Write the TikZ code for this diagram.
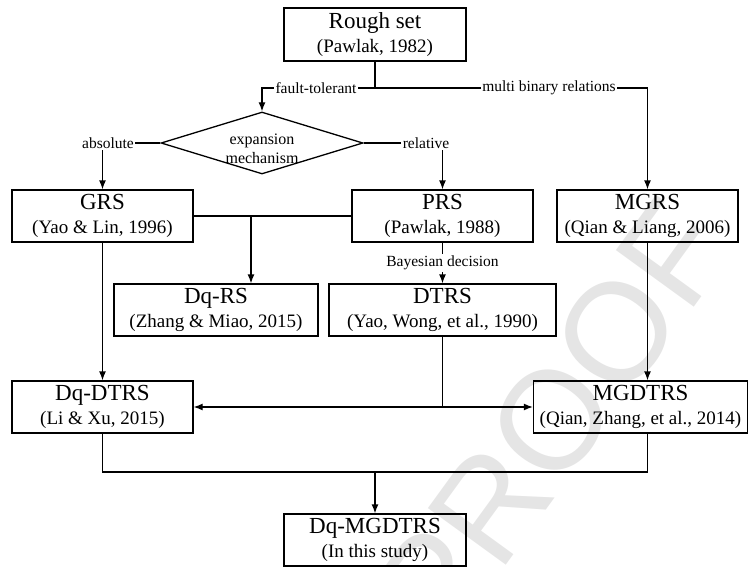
\documentclass[tikz,border=0pt]{standalone}
\usepackage{fontspec}
\setmainfont{Liberation Serif}
\newfontfamily\wmfont{Liberation Sans}
\usetikzlibrary{arrows.meta,shapes.geometric}
\newcommand{\boxtitle}[1]{{\fontsize{23}{24}\selectfont #1}}
\begin{document}
\begin{tikzpicture}[x=1pt,y=-1pt,
  box/.style={draw, line width=1.3pt, align=center, inner sep=0pt, font=\fontsize{19}{24}\selectfont},
  lbl/.style={fill=white, inner sep=1.5pt, font=\fontsize{15.5}{19}\selectfont},
  conn/.style={line width=1.3pt},
  arr/.style={line width=1.3pt, -{Latex[length=9pt,width=7pt]}},
]
\useasboundingbox (0,0) rectangle (749,567);
% watermark
\node[rotate=54, text=black!10, font=\wmfont\fontsize{140}{140}\selectfont] (wm) at (552,420) {PROOF};

% boxes
\node[box, minimum width=182pt, minimum height=53pt] (rough) at (375,34.5) {\boxtitle{Rough set}\\(Pawlak, 1982)};
\node[draw, diamond, line width=1.3pt, minimum width=202pt, minimum height=62pt, inner sep=0pt] (dia) at (262,143) {};
\node[align=center, inner sep=0pt, font=\fontsize{16}{19}\selectfont] (diatext) at (262,149) {expansion\\mechanism};
\node[box, minimum width=181pt, minimum height=52pt] (grs) at (102.5,216) {\boxtitle{GRS}\\(Yao \& Lin, 1996)};
\node[box, minimum width=181pt, minimum height=52pt] (prs) at (442.5,216) {\boxtitle{PRS}\\(Pawlak, 1988)};
\node[box, minimum width=181pt, minimum height=52pt] (mgrs) at (647.5,216) {\boxtitle{MGRS}\\(Qian \& Liang, 2006)};
\node[box, minimum width=204pt, minimum height=52pt] (dqrs) at (216,310) {\boxtitle{Dq-RS}\\(Zhang \& Miao, 2015)};
\node[box, minimum width=227pt, minimum height=52pt] (dtrs) at (442.5,310) {\boxtitle{DTRS}\\(Yao, Wong, et al., 1990)};
\node[box, minimum width=181pt, minimum height=52pt] (dqdtrs) at (102.5,407) {\boxtitle{Dq-DTRS}\\(Li \& Xu, 2015)};
\node[box, minimum width=214pt, minimum height=52pt] (mgdtrs) at (640.5,407) {\boxtitle{MGDTRS}\\(Qian, Zhang, et al., 2014)};
\node[box, minimum width=182pt, minimum height=52pt] (dqmg) at (375,540) {\boxtitle{Dq-MGDTRS}\\(In this study)};

% connectors
\coordinate (s1) at (375,88);
\draw[conn] (rough.south) -- (s1);
\draw[arr] (s1) -| (dia.north);
\draw[arr] (s1) -| (mgrs.north);
\draw[arr] (dia.west) -| (grs.north);
\draw[arr] (dia.east) -| (prs.north);
\draw[conn] (grs.east) -- (prs.west);
\coordinate (j1) at (251,216);
\draw[arr] (j1) -- (j1 |- dqrs.north);
\draw[arr] (prs.south) -- (dtrs.north);
\draw[arr] (grs.south) -- (dqdtrs.north);
\draw[arr] (mgrs.south) -- (mgrs.south |- mgdtrs.north);
\coordinate (j2) at (442.5,407);
\draw[conn] (dtrs.south) -- (j2);
\draw[arr] (j2) -- (dqdtrs.east);
\draw[arr] (j2) -- (mgdtrs.west);
\coordinate (j3) at (375,472);
\draw[conn] (dqdtrs.south) |- (j3) -| (mgrs.south |- mgdtrs.south);
\draw[arr] (j3) -- (dqmg.north);

% labels
\node[lbl] (lft) at (316,88) {fault-tolerant};
\node[lbl] (lmb) at (549,88) {multi binary relations};
\node[lbl] (labs) at (108,143) {absolute};
\node[lbl] (lrel) at (426,143) {relative};
\node[lbl] (lbay) at (442.5,263) {Bayesian decision};
\end{tikzpicture}
\end{document}
